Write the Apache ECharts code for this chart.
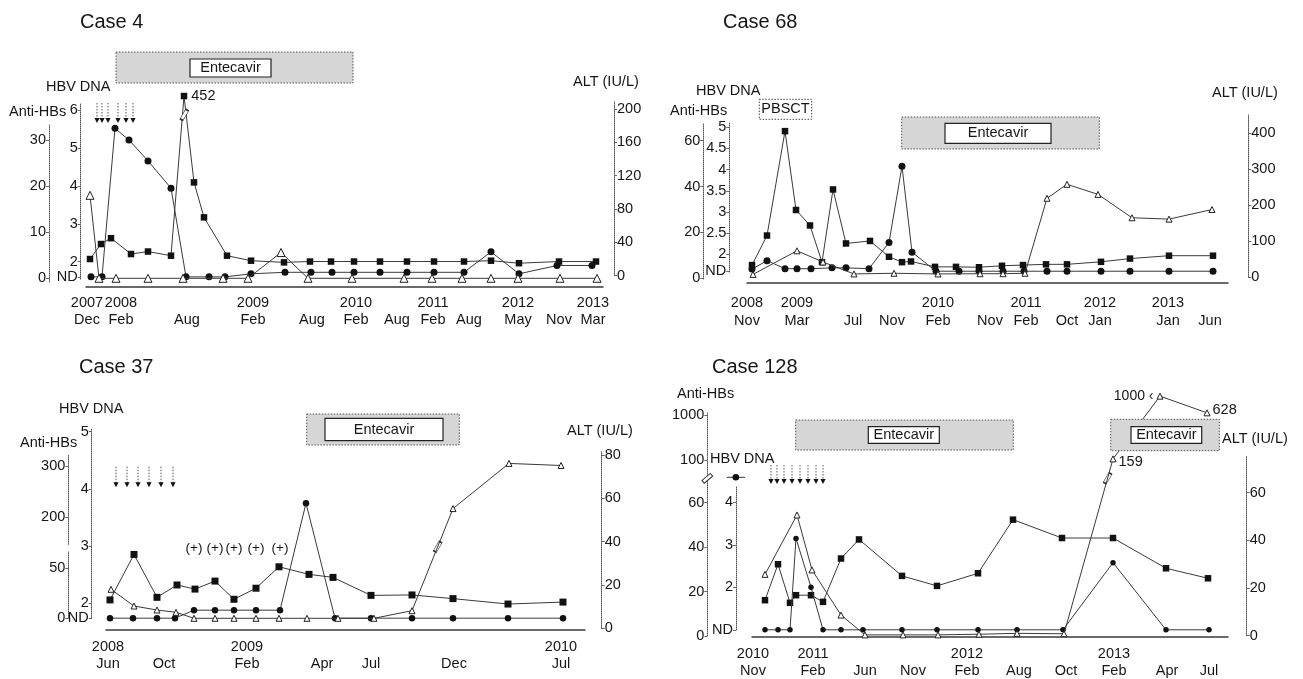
<!DOCTYPE html>
<html>
<head>
<meta charset="utf-8">
<script src="https://cdn.jsdelivr.net/npm/echarts@6.0.0/dist/echarts.min.js"></script>
<style>
html,body{margin:0;padding:0;background:#ffffff;}
#chart{width:1303px;height:679px;}
</style>
</head>
<body>
<div id="chart"></div>
<script>
// ================= DATA =================
// x values are positions along each panel's (non-linear) time axis, in axis units from its start.
const ND = 'ND';    // HBV DNA not detected
const POS = '(+)';  // HBV DNA positive, below quantification

// ---- Case 4 ----
const c4XTicks  = [-3, 31, 97, 163, 222, 266, 307, 343, 379, 428, 469, 503];
const c4XLabels = ['2007\nDec', '2008\nFeb', '\nAug', '2009\nFeb', '\nAug', '2010\nFeb', '\nAug', '2011\nFeb', '\nAug', '2012\nMay', '\nNov', '2013\nMar'];
const c4AntiX = [0, 9, 26, 58, 93, 133, 158, 191, 218, 262, 314, 342, 372, 401, 428, 470, 507];
const c4Anti  = [18, 0, 0, 0, 0, 0, 0, 5.6, 0, 0, 0, 0, 0, 0, 0, 0, 0];
const c4DnaX  = [1, 12, 25, 39, 58, 81, 96, 119, 135, 161, 195, 221, 242, 264, 290, 317, 344, 374, 401, 429, 467, 502];
const c4Dna   = [ND, ND, 5.52, 5.21, 4.66, 3.94, ND, ND, ND, 1.68, 1.72, 1.72, 1.72, 1.72, 1.72, 1.72, 1.72, 1.72, 2.26, 1.68, 1.9, 1.9];
const c4AltX  = [0, 11, 21, 41, 58, 81, 94, 104, 114, 137, 161, 194, 220, 241, 264, 290, 317, 344, 374, 401, 429, 469, 506];
const c4Alt   = [20, 38, 45, 26, 29, 24, 452, 112, 70, 24, 18, 16, 17, 17, 17, 17, 17, 17, 17, 18, 15, 17, 17];
const c4AntiTicks = [0, 10, 20, 30];
const c4DnaTicks  = [ND, 2, 3, 4, 5, 6];
const c4AltTicks  = [0, 40, 80, 120, 160, 200];
const c4Doses = [7, 12, 18, 28, 36, 43];

// ---- Case 68 ----
const c68XTicks  = [0, 50, 106, 145, 191, 243, 279, 320, 353, 421, 463];
const c68XLabels = ['2008\nNov', '2009\nMar', '\nJul', '\nNov', '2010\nFeb', '\nNov', '2011\nFeb', '\nOct', '2012\nJan', '2013\nJan', '\nJun'];
const c68AntiX = [6, 50, 76, 107, 147, 191, 233, 256, 278, 300, 320, 351, 385, 422, 465];
const c68Anti  = [1.7, 12, 7.1, 1.9, 2.2, 1.9, 2, 2, 2.2, 34.9, 41, 36.6, 26.4, 25.8, 30];
const c68DnaX  = [5, 20, 38, 50, 64, 85, 99, 122, 142, 155, 165, 189, 212, 232, 256, 277, 300, 320, 354, 383, 422, 466];
const c68Dna   = [1.65, 1.85, 1.66, 1.66, 1.66, 1.68, 1.68, 1.66, 2.28, 4.08, 2.05, ND, ND, ND, ND, ND, ND, ND, ND, ND, ND, ND];
const c68AltX  = [5, 20, 38, 49, 63, 75, 86, 99, 123, 142, 155, 164, 188, 209, 232, 255, 276, 299, 320, 354, 383, 422, 466];
const c68Alt   = [34, 116, 406, 187, 144, 42, 244, 94, 101, 57, 42, 44, 29, 29, 28, 32, 34, 36, 36, 43, 52, 60, 60];
const c68AntiTicks = [0, 20, 40, 60];
const c68DnaTicks  = [ND, 2, 2.5, 3, 3.5, 4, 4.5, 5];
const c68AltTicks  = [0, 100, 200, 300, 400];

// ---- Case 37 ----
const c37XTicks  = [2, 58, 141, 216, 265, 348, 455];
const c37XLabels = ['2008\nJun', '\nOct', '2009\nFeb', '\nApr', '\nJul', '\nDec', '2010\nJul'];
const c37AntiX = [5, 28, 51, 70, 88, 109, 128, 150, 173, 201, 232, 268, 306, 347, 403, 455];
const c37Anti  = [29, 12.3, 8.3, 6, 0, 0, 0, 0, 0, 0, 0, 0, 7.6, 217, 305, 301];
const c37DnaX  = [4, 27, 51, 69, 88, 109, 128, 150, 174, 200, 229, 265, 306, 347, 402, 457];
const c37Dna   = [ND, ND, ND, ND, POS, POS, POS, POS, POS, 3.75, ND, ND, ND, ND, ND, ND];
const c37AltX  = [4, 28, 51, 71, 89, 109, 128, 150, 173, 203, 227, 265, 306, 347, 402, 457];
const c37Alt   = [13.1, 34.1, 14.3, 20, 18.1, 21.8, 13.4, 18.5, 28.4, 24.9, 23.5, 15.2, 15.4, 13.7, 11.2, 12.1];
const c37AntiTicks = [0, 50, 200, 300];
const c37DnaTicks  = [ND, 2, 3, 4, 5];
const c37AltTicks  = [0, 20, 40, 60, 80];
const c37Doses = [10, 21, 32, 43, 55, 67];

// ---- Case 128 ----
const c128XTicks  = [1, 61, 113, 161, 215, 267, 314, 362, 415, 457];
const c128XLabels = ['2010\nNov', '2011\nFeb', '\nJun', '\nNov', '2012\nFeb', '\nAug', '\nOct', '2013\nFeb', '\nApr', '\nJul'];
const c128AntiX = [13, 45, 60, 89, 113, 151, 186, 227, 265, 312, 361, 408, 455];
const c128Anti  = [27.7, 54.4, 29.7, 9.4, 0.5, 0.5, 0.5, 0.8, 1.2, 1, 159, 1000, 628];
const c128DnaX  = [13, 26, 38, 44, 59, 71, 89, 111, 150, 185, 226, 265, 311, 361, 414, 457];
const c128Dna   = [ND, ND, ND, 3.15, 2.0, ND, ND, ND, ND, ND, ND, ND, ND, 2.58, ND, ND];
const c128AltX  = [13, 26, 38, 44, 59, 71, 89, 107, 150, 185, 226, 261, 310, 361, 414, 456];
const c128Alt   = [14.9, 30, 13.8, 17, 17, 14.2, 32.4, 40.4, 25.1, 20.9, 26.2, 48.7, 41, 41, 28.3, 24.1];
const c128AntiTicks = [0, 20, 40, 60, 100, 1000];
const c128DnaTicks  = [ND, 2, 3, 4];
const c128AltTicks  = [0, 20, 40, 60];
const c128Doses = [19, 25, 32, 40, 48, 56, 64, 71];

// ================= STYLE / LAYOUT =================
const FONT = '"Liberation Sans", Arial, Helvetica, sans-serif';
const INK = '#161616';
const LINE = '#3a3a3a';

// piecewise-linear broken-axis scale (value -> axis units)
function pw(knots) {
  if (!knots) return v => v;
  return v => {
    let i = 0;
    while (i < knots.length - 2 && v > knots[i + 1][0]) i++;
    const [a, fa] = knots[i], [b, fb] = knots[i + 1];
    return fa + (v - a) * (fb - fa) / (b - a);
  };
}

const panels = [
  {
    title: 'Case 4', titlePos: [80, 22],
    left: 90, xMin: -4, width: 513, xAxisY: 286.5, xMargin: 8.3, xLineH: 17,
    xTicks: c4XTicks, xLabels: c4XLabels,
    anti: { x: 49, top: 124, bottom: 282, y0: 278.3, v0: 0, s: 4.61, ticks: c4AntiTicks, xs: c4AntiX, vals: c4Anti, size: 8 },
    dna: { x: 80.7, top: 103, bottom: 279, y0: 261.7, v0: 2, s: 37.9, ticks: c4DnaTicks, nd: 1.6, xs: c4DnaX, vals: c4Dna, size: 7 },
    alt: { x: 614, top: 101.7, bottom: 275.7, y0: 275.7, v0: 0, s: 0.8333, ticks: c4AltTicks, xs: c4AltX, vals: c4Alt, size: 6.5,
      knots: [[0, 0], [205, 205], [452, 215.6]], breakLevel: 193,
      labels: v => v > 205 ? { show: true, position: 'right', distance: 4, formatter: String(v), fontSize: 14.5, color: INK, fontFamily: FONT } : null },
    doses: c4Doses, doseY: [103, 123],
    axisTitles: [['HBV DNA', 46, 87], ['Anti-HBs', 9, 112], ['ALT (IU/L)', 573, 82]],
    boxes: [{ outer: [116, 52, 353, 83], inner: [190, 59, 271, 77] }]
  },
  {
    title: 'Case 68', titlePos: [723, 22],
    left: 747, xMin: 0, width: 481, xAxisY: 282.3, xMargin: 12.2, xLineH: 17.5,
    xTicks: c68XTicks, xLabels: c68XLabels,
    anti: { x: 703.3, top: 123, bottom: 279, y0: 278.3, v0: 0, s: 2.293, ticks: c68AntiTicks, xs: c68AntiX, vals: c68Anti, size: 6 },
    dna: { x: 729.3, top: 123, bottom: 272, y0: 254.3, v0: 2, s: 42.33, ticks: c68DnaTicks, nd: 1.6, xs: c68DnaX, vals: c68Dna, size: 7 },
    alt: { x: 1248.3, top: 115, bottom: 277.3, y0: 277.3, v0: 0, s: 0.36, ticks: c68AltTicks, xs: c68AltX, vals: c68Alt, size: 6.5 },
    axisTitles: [['HBV DNA', 696, 91], ['Anti-HBs', 670, 111], ['ALT (IU/L)', 1212, 93]],
    boxes: [{ outer: [901.7, 117, 1099.3, 149], inner: [945, 123.3, 1051, 143.3] }],
    pbsct: [759.3, 99.3, 811.7, 119.3]
  },
  {
    title: 'Case 37', titlePos: [79, 367],
    left: 106, xMin: 0, width: 479, xAxisY: 629.3, xMargin: 8.6, xLineH: 17.6,
    xTicks: c37XTicks, xLabels: c37XLabels,
    anti: { x: 68.3, top: 455, bottom: 618.3, y0: 618.3, v0: 0, s: 1, ticks: c37AntiTicks, xs: c37AntiX, vals: c37Anti, size: 6,
      knots: [[0, 0], [60, 60], [200, 101], [300, 152.3]], breakLevel: 71.6 },
    dna: { x: 91.7, top: 429, bottom: 618.3, y0: 603.3, v0: 2, s: 57.2, ticks: c37DnaTicks, nd: 1.74, pos: 1.88, xs: c37DnaX, vals: c37Dna, size: 6.5,
      labels: v => v === POS ? { show: true, position: 'top', distance: 52, formatter: '(+)', fontSize: 13.5, color: INK, fontFamily: FONT } : null },
    alt: { x: 601.7, top: 451.7, bottom: 628.3, y0: 628.3, v0: 0, s: 2.166, ticks: c37AltTicks, xs: c37AltX, vals: c37Alt, size: 7 },
    doses: c37Doses, doseY: [466.7, 487.3],
    axisTitles: [['HBV DNA', 59, 409], ['Anti-HBs', 20, 443], ['ALT (IU/L)', 567, 431]],
    boxes: [{ outer: [306.7, 414, 459.3, 445], inner: [325, 418.3, 443, 440.7] }],
    axisGap: [64, 545.2, 9, 6.3]
  },
  {
    title: 'Case 128', titlePos: [712, 367],
    left: 752, xMin: 0, width: 476, xAxisY: 639.3, xMargin: 9.1, xLineH: 16.6,
    xTicks: c128XTicks, xLabels: c128XLabels,
    anti: { x: 707.3, top: 413, bottom: 636, y0: 636, v0: 0, s: 2.225, ticks: c128AntiTicks, xs: c128AntiX, vals: c128Anti, size: 6,
      knots: [[0, 0], [65, 65], [159, 79.6], [628, 100.3], [1000, 107.8]],
      axisKnots: [[0, 0], [60, 60], [100, 79.1], [1000, 99.3]], breakLevel: 70.9,
      labels: v => v === 1000 ? { show: true, position: 'left', distance: 3, formatter: '1000 \u2039', fontSize: 14, color: INK, fontFamily: FONT }
        : (v > 100 ? { show: true, position: 'right', distance: 2, offset: [0, v < 300 ? 3 : -3], formatter: String(v), fontSize: 14.5, color: INK, fontFamily: FONT } : null) },
    dna: { x: 736, top: 486, bottom: 630, y0: 587.3, v0: 2, s: 42.5, ticks: c128DnaTicks, nd: 1.0, xs: c128DnaX, vals: c128Dna, size: 5.5 },
    alt: { x: 1246.7, top: 456, bottom: 638.3, y0: 638.3, v0: 0, s: 2.417, ticks: c128AltTicks, xs: c128AltX, vals: c128Alt, size: 6.5 },
    doses: c128Doses, doseY: [465, 484],
    axisTitles: [['Anti-HBs', 677, 394], ['HBV DNA', 710, 459], ['ALT (IU/L)', 1222, 439]],
    boxes: [{ outer: [795.7, 420, 1013.3, 450], inner: [868.3, 426.7, 939.3, 443.3] },
            { outer: [1110.7, 419.3, 1219.3, 450.7], inner: [1131, 426.7, 1201.7, 443.3] }],
    axisBreak: [707.3, 478.3],
    dnaLegend: [726.7, 745, 477.3]
  }
];

// ================= BUILD OPTION =================
const grid = [], xAxis = [], yAxis = [], series = [];
const KINDS = ['anti', 'dna', 'alt'];

panels.forEach((p, pi) => {
  const gLeft = p.left + p.xMin, gWidth = p.width - p.xMin, gRight = p.left + p.width;
  KINDS.forEach((k, ki) => {
    const a = p[k];
    const gi = pi * 3 + ki;
    grid.push({ left: gLeft, top: a.top, width: gWidth, height: a.bottom - a.top });
    const isMainX = (k === 'alt');
    xAxis.push({
      gridIndex: gi, type: 'value', min: p.xMin, max: p.width, position: 'bottom',
      show: isMainX, offset: isMainX ? p.xAxisY - a.bottom : 0,
      axisLine: { show: true, onZero: false, lineStyle: { color: '#3a3a3a', width: 1.5 } },
      axisTick: { show: false }, splitLine: { show: false },
      axisLabel: isMainX ? {
        show: true, customValues: p.xTicks, showMinLabel: true, showMaxLabel: true, hideOverlap: false,
        formatter: v => { const i = p.xTicks.findIndex(t => Math.abs(t - v) < 1e-6); return i < 0 ? '' : p.xLabels[i]; },
        margin: p.xMargin, lineHeight: p.xLineH, fontSize: 14.5, color: INK, fontFamily: FONT
      } : { show: false }
    });
    const mapDna = v => v === ND ? a.nd : (v === POS ? a.pos : v);
    const f = k === 'dna' ? mapDna : pw(a.knots);
    const tf = k === 'dna' ? mapDna : pw(a.axisKnots || a.knots);
    const tickPos = a.ticks.map(tf);
    const tickTxt = a.ticks.map(String);
    const min = a.v0 - (a.bottom - a.y0) / a.s;
    const max = a.v0 + (a.y0 - a.top) / a.s;
    yAxis.push({
      gridIndex: gi, type: 'value', min, max,
      position: k === 'alt' ? 'right' : 'left',
      offset: k === 'alt' ? a.x - gRight : gLeft - a.x,
      axisLine: { show: true, onZero: false, lineStyle: { color: '#555', width: 1, type: 'dotted' } },
      axisTick: { show: true, customValues: tickPos, length: 3, lineStyle: { color: '#666' } },
      splitLine: { show: false },
      axisLabel: {
        show: true, customValues: tickPos, showMinLabel: true, showMaxLabel: true, hideOverlap: false,
        formatter: v => { const i = tickPos.findIndex(t => Math.abs(t - v) < 1e-6); return i < 0 ? '' : tickTxt[i]; },
        margin: 3, fontSize: 14.5, color: INK, fontFamily: FONT
      }
    });

    const disp = a.vals.map(f);
    const data = a.xs.map((x, i) => {
      const item = { value: [x, disp[i]] };
      const lab = a.labels ? a.labels(a.vals[i]) : null;
      if (lab) item.label = lab;
      return item;
    });

    let markPoint;
    if (a.breakLevel !== undefined) {
      const L = a.breakLevel, cx = [];
      for (let i = 0; i < disp.length - 1; i++) {
        if ((disp[i] - L) * (disp[i + 1] - L) < 0) {
          cx.push(a.xs[i] + (L - disp[i]) / (disp[i + 1] - disp[i]) * (a.xs[i + 1] - a.xs[i]));
        }
      }
      if (cx.length) {
        const xm = cx.reduce((s, v) => s + v, 0) / cx.length;
        markPoint = {
          silent: true, animation: false, symbol: 'rect', symbolSize: [11, 3.5], symbolRotate: 60,
          itemStyle: { color: '#fff', borderColor: '#333', borderWidth: 1 },
          label: { show: false },
          data: [{ coord: [xm, L] }]
        };
      }
    }

    const hollow = (k === 'anti');
    series.push({
      type: 'line', xAxisIndex: gi, yAxisIndex: gi, data,
      symbol: k === 'anti' ? 'triangle' : (k === 'dna' ? 'circle' : 'rect'),
      symbolSize: a.size, showAllSymbol: true, clip: false, silent: true,
      z: k === 'anti' ? 5 : (k === 'dna' ? 4 : 3),
      lineStyle: { color: LINE, width: 1 },
      itemStyle: hollow ? { color: '#fff', borderColor: '#222', borderWidth: 1 } : { color: '#111' },
      emphasis: { disabled: true },
      markPoint
    });
  });
});

const chart = echarts.init(document.getElementById('chart'), null, { renderer: 'canvas' });
chart.setOption({
  animation: false, backgroundColor: '#ffffff',
  textStyle: { fontFamily: FONT },
  grid, xAxis, yAxis, series
});

// ================= ANNOTATIONS =================
const g = [];
function text(str, x, y, size, align) {
  g.push({ type: 'text', x, y, z: 110, silent: true,
    style: { text: str, fontSize: size, fontFamily: FONT, fill: INK, align: align || 'left', verticalAlign: 'middle' } });
}
panels.forEach((p, pi) => {
  text(p.title, p.titlePos[0], p.titlePos[1], 20);
  p.axisTitles.forEach(t => text(t[0], t[1], t[2], 14.5));
  (p.boxes || []).forEach(b => {
    const [x1, y1, x2, y2] = b.outer, [i1, j1, i2, j2] = b.inner;
    g.push({ type: 'rect', z: 100, silent: true, shape: { x: x1, y: y1, width: x2 - x1, height: y2 - y1 },
      style: { fill: '#d6d6d6', stroke: '#555', lineWidth: 1, lineDash: [1.5, 1.5] } });
    g.push({ type: 'rect', z: 101, silent: true, shape: { x: i1, y: j1, width: i2 - i1, height: j2 - j1 },
      style: { fill: '#ffffff', stroke: '#222', lineWidth: 1.2 } });
    text('Entecavir', (i1 + i2) / 2, (j1 + j2) / 2, 14.5, 'center');
  });
  if (p.pbsct) {
    const [x1, y1, x2, y2] = p.pbsct;
    g.push({ type: 'rect', z: 100, silent: true, shape: { x: x1, y: y1, width: x2 - x1, height: y2 - y1 },
      style: { fill: '#ffffff', stroke: '#444', lineWidth: 1, lineDash: [1.5, 1.5] } });
    text('PBSCT', (x1 + x2) / 2, (y1 + y2) / 2, 14.5, 'center');
  }
  if (p.doses) {
    p.doses.forEach(d => {
      const x = chart.convertToPixel({ xAxisIndex: pi * 3 + 2 }, d);
      const [ya, yb] = p.doseY;
      g.push({ type: 'line', z: 100, silent: true, shape: { x1: x, y1: ya, x2: x, y2: yb - 4 },
        style: { stroke: '#555', lineWidth: 1, lineDash: [1.5, 1.5] } });
      g.push({ type: 'polygon', z: 100, silent: true, shape: { points: [[x - 2.6, yb - 5], [x + 2.6, yb - 5], [x, yb]] },
        style: { fill: '#111' } });
    });
  }
  if (p.axisGap) {
    const [x, y, w, h] = p.axisGap;
    g.push({ type: 'rect', z: 100, silent: true, shape: { x, y, width: w, height: h }, style: { fill: '#ffffff' } });
  }
  if (p.axisBreak) {
    g.push({ type: 'rect', z: 100, silent: true, x: p.axisBreak[0], y: p.axisBreak[1], rotation: 0.7,
      shape: { x: -5.5, y: -1.8, width: 11, height: 3.6 }, style: { fill: '#fff', stroke: '#333', lineWidth: 1 } });
  }
  if (p.dnaLegend) {
    const [xa, xb, y] = p.dnaLegend;
    g.push({ type: 'line', z: 100, silent: true, shape: { x1: xa, y1: y, x2: xb, y2: y }, style: { stroke: '#333', lineWidth: 1 } });
    g.push({ type: 'circle', z: 101, silent: true, shape: { cx: (xa + xb) / 2, cy: y, r: 3.3 }, style: { fill: '#111' } });
  }
});
chart.setOption({ graphic: g });
</script>
</body>
</html>
